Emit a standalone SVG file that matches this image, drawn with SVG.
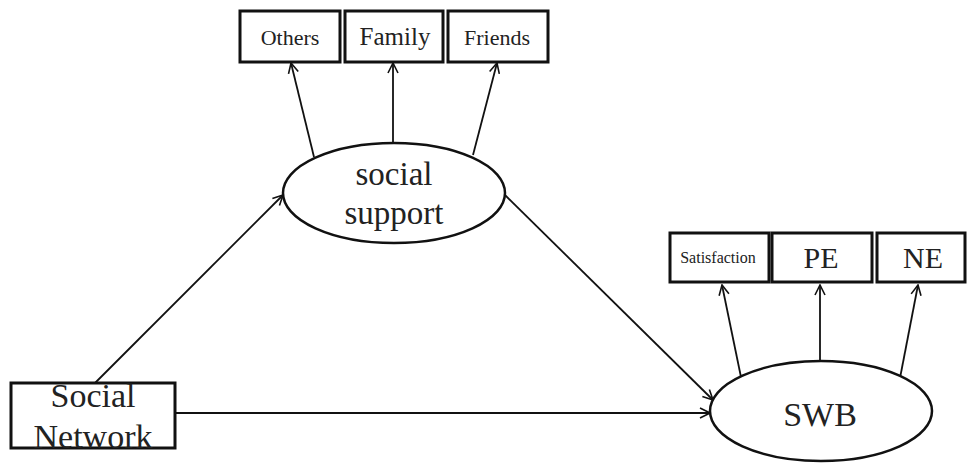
<svg xmlns="http://www.w3.org/2000/svg" width="969" height="463" viewBox="0 0 969 463">
<defs>
<marker id="arr" viewBox="0 0 12 12" refX="11" refY="6" markerWidth="12" markerHeight="12" markerUnits="userSpaceOnUse" orient="auto">
<polyline points="1,1 11,6 1,11" fill="none" stroke="#111" stroke-width="1.6"/>
</marker>
<style>
.box{fill:#fff;stroke:#111;stroke-width:3}
.ell{fill:#fff;stroke:#111;stroke-width:2.5}
.t{font-family:'Liberation Serif','Times New Roman','DejaVu Serif',serif;fill:#222;text-anchor:middle}
.c line{stroke:#111;stroke-width:1.8;marker-end:url(#arr)}
</style>
</defs>
<rect width="969" height="463" fill="#fff"/>
<g class="c" id="connectors">
<line x1="314" y1="157" x2="291" y2="63"/>
<line x1="393" y1="143" x2="393" y2="63"/>
<line x1="473" y1="155" x2="497" y2="63"/>
<line x1="95" y1="383" x2="283" y2="195"/>
<line x1="175" y1="413" x2="710" y2="413"/>
<line x1="505" y1="195" x2="713" y2="400"/>
<line x1="742" y1="382" x2="722" y2="285"/>
<line x1="820" y1="361" x2="820" y2="285"/>
<line x1="900" y1="378" x2="918" y2="285"/>
</g>
<g id="others"><rect class="box" x="240" y="11" width="100" height="51"/><text class="t" x="290" y="45" font-size="22">Others</text></g>
<g id="family"><rect class="box" x="345" y="11" width="98" height="51"/><text class="t" x="395" y="45" font-size="25">Family</text></g>
<g id="friends"><rect class="box" x="448" y="11" width="100" height="51"/><text class="t" x="497" y="45" font-size="22">Friends</text></g>
<g id="social-support"><ellipse class="ell" cx="394" cy="193" rx="111" ry="50"/><text class="t" x="394" y="185" font-size="33">social</text><text class="t" x="394" y="224" font-size="33">support</text></g>
<g id="satisfaction"><rect class="box" x="670" y="233" width="99" height="49"/><text class="t" x="718" y="263" font-size="16">Satisfaction</text></g>
<g id="pe"><rect class="box" x="772" y="233" width="100" height="49"/><text class="t" x="821" y="268" font-size="30">PE</text></g>
<g id="ne"><rect class="box" x="877" y="233" width="88" height="49"/><text class="t" x="923" y="268" font-size="30">NE</text></g>
<g id="swb"><ellipse class="ell" cx="821" cy="411" rx="111" ry="50"/><text class="t" x="820" y="426" font-size="34">SWB</text></g>
<g id="social-network"><rect class="box" x="11" y="383" width="164" height="65"/><text class="t" x="93" y="407" font-size="34">Social</text><text class="t" x="93" y="448" font-size="34">Network</text></g>
</svg>
